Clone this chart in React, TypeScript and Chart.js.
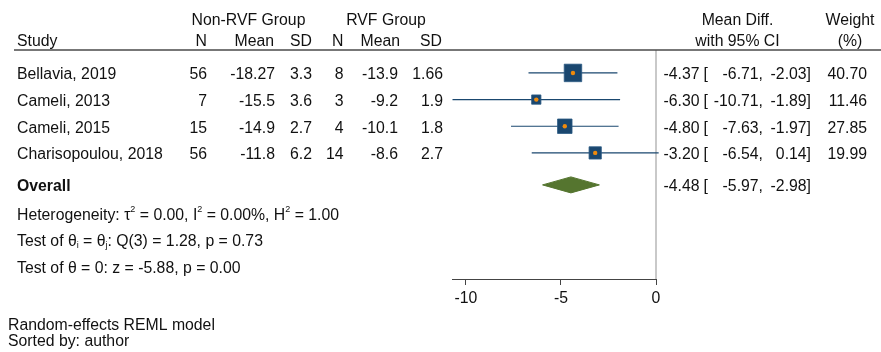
import { useEffect, useRef } from "react";
import { Chart, registerables } from "chart.js";

Chart.register(...registerables);

// ---- data ----
const studies = ["Bellavia, 2019", "Cameli, 2013", "Cameli, 2015", "Charisopoulou, 2018"];
const n1 = [56, 7, 15, 56];
const mean1 = [-18.27, -15.5, -14.9, -11.8];
const sd1 = [3.3, 3.6, 2.7, 6.2];
const n2 = [8, 3, 4, 14];
const mean2 = [-13.9, -9.2, -10.1, -8.6];
const sd2 = [1.66, 1.9, 1.8, 2.7];
const meanDiff = [-4.37, -6.3, -4.8, -3.2];
const ciLow = [-6.71, -10.71, -7.63, -6.54];
const ciHigh = [-2.03, -1.89, -1.97, 0.14];
const weights = [40.7, 11.46, 27.85, 19.99];
const overall = { est: -4.48, lo: -5.97, hi: -2.98 };
const xTicks = [-10, -5, 0];
const xMin = -10.71;
const xMax = 0;

// ---- layout (row units on the y scale) ----
const Y_MIN = 0.14;
const Y_MAX = 8.73;
const studyRows = [1, 2, 3, 4];
const overallRow = 5.2;
const statRows = [6.26, 7.27, 8.28];
const headRows = [-1.05, -0.24];
const footRows = [10.39, 10.99];
const DIAMOND_HALF = 0.3;
const SQUARE_MAX = 17.5;
const TEXT_DY = 2;

const FONT = '"Liberation Sans", Arial, Helvetica, sans-serif';
const FS = 15.8;
const TEXT = "#111111";
const NAVY = "#1a476f";
const ORANGE = "#ef8a0c";
const GREEN = "#55752f";

const COL = {
  study: 17,
  n1: 207,
  mean1: 275,
  sd1: 312,
  n2: 343.5,
  mean2: 398,
  sd2: 443,
  est: 699.5,
  brk: 703.5,
  lo: 763,
  hi: 811,
  w: 867,
};

type Run = { t: string; sup?: boolean; sub?: boolean; bold?: boolean };

function drawRuns(ctx: CanvasRenderingContext2D, runs: Run[], x: number, y: number) {
  let cx = x;
  ctx.textAlign = "left";
  ctx.textBaseline = "middle";
  for (const r of runs) {
    const size = r.sup || r.sub ? 9 : FS;
    ctx.font = `${r.bold ? "bold " : ""}${size}px ${FONT}`;
    const dy = r.sup ? -5.5 : r.sub ? 3.5 : 0;
    ctx.fillText(r.t, cx, y + dy + TEXT_DY);
    cx += ctx.measureText(r.t).width;
  }
}

function txt(ctx: CanvasRenderingContext2D, s: string, x: number, y: number, align: CanvasTextAlign, bold = false) {
  ctx.font = `${bold ? "bold " : ""}${FS}px ${FONT}`;
  ctx.textAlign = align;
  ctx.textBaseline = "middle";
  ctx.fillText(s, x, y + TEXT_DY);
}

const textPlugin = {
  id: "forestText",
  afterDraw(chart: any) {
    const ctx: CanvasRenderingContext2D = chart.ctx;
    const ys = chart.scales.y;
    const Y = (v: number) => ys.getPixelForValue(v);
    ctx.save();
    // header rule
    ctx.strokeStyle = "#4a4a4a";
    ctx.lineWidth = 1.5;
    ctx.beginPath();
    ctx.moveTo(14, chart.chartArea.top);
    ctx.lineTo(881, chart.chartArea.top);
    ctx.stroke();

    ctx.fillStyle = TEXT;
    const h1 = Y(headRows[0]);
    const h2 = Y(headRows[1]);
    txt(ctx, "Non-RVF Group", 248.5, h1, "center");
    txt(ctx, "RVF Group", 386, h1, "center");
    txt(ctx, "Mean Diff.", 737.5, h1, "center");
    txt(ctx, "Weight", 850, h1, "center");
    txt(ctx, "Study", COL.study, h2, "left");
    txt(ctx, "N", COL.n1, h2, "right");
    txt(ctx, "Mean", 274, h2, "right");
    txt(ctx, "SD", COL.sd1, h2, "right");
    txt(ctx, "N", COL.n2, h2, "right");
    txt(ctx, "Mean", 400, h2, "right");
    txt(ctx, "SD", 442, h2, "right");
    txt(ctx, "with 95% CI", 737.5, h2, "center");
    txt(ctx, "(%)", 850, h2, "center");

    studies.forEach((s, i) => {
      const y = Y(studyRows[i]);
      txt(ctx, s, COL.study, y, "left");
      txt(ctx, String(n1[i]), COL.n1, y, "right");
      txt(ctx, String(mean1[i]), COL.mean1, y, "right");
      txt(ctx, String(sd1[i]), COL.sd1, y, "right");
      txt(ctx, String(n2[i]), COL.n2, y, "right");
      txt(ctx, String(mean2[i]), COL.mean2, y, "right");
      txt(ctx, String(sd2[i]), COL.sd2, y, "right");
      txt(ctx, meanDiff[i].toFixed(2), COL.est, y, "right");
      txt(ctx, "[", COL.brk, y, "left");
      txt(ctx, ciLow[i].toFixed(2) + ",", COL.lo, y, "right");
      txt(ctx, ciHigh[i].toFixed(2) + "]", COL.hi, y, "right");
      txt(ctx, weights[i].toFixed(2), COL.w, y, "right");
    });

    const oy = Y(overallRow);
    txt(ctx, "Overall", COL.study, oy, "left", true);
    txt(ctx, overall.est.toFixed(2), COL.est, oy, "right");
    txt(ctx, "[", COL.brk, oy, "left");
    txt(ctx, overall.lo.toFixed(2) + ",", COL.lo, oy, "right");
    txt(ctx, overall.hi.toFixed(2) + "]", COL.hi, oy, "right");

    drawRuns(
      ctx,
      [
        { t: "Heterogeneity: τ" },
        { t: "2", sup: true },
        { t: " = 0.00, I" },
        { t: "2", sup: true },
        { t: " = 0.00%, H" },
        { t: "2", sup: true },
        { t: " = 1.00" },
      ],
      COL.study,
      Y(statRows[0])
    );
    drawRuns(
      ctx,
      [
        { t: "Test of θ" },
        { t: "i", sub: true },
        { t: " = θ" },
        { t: "j", sub: true },
        { t: ": Q(3) = 1.28, p = 0.73" },
      ],
      COL.study,
      Y(statRows[1])
    );
    drawRuns(ctx, [{ t: "Test of θ = 0: z = -5.88, p = 0.00" }], COL.study, Y(statRows[2]));

    txt(ctx, "Random-effects REML model", 8, Y(footRows[0]), "left");
    txt(ctx, "Sorted by: author", 8, Y(footRows[1]), "left");
    ctx.restore();
  },
};

export default function App() {
  const ref = useRef<HTMLCanvasElement | null>(null);
  useEffect(() => {
    if (!ref.current) return;
    const maxW = Math.max(...weights);
    const ciSets = studies.map((_, i) => ({
      type: "scatter" as const,
      data: [
        { x: ciLow[i], y: studyRows[i] },
        { x: ciHigh[i], y: studyRows[i] },
      ],
      showLine: true,
      borderColor: NAVY,
      borderWidth: 1.2,
      pointRadius: 0,
      clip: false as any,
      order: 5,
    }));
    const chart = new Chart(ref.current, {
      type: "scatter",
      data: {
        datasets: [
          {
            data: [
              { x: 0, y: Y_MIN },
              { x: 0, y: Y_MAX },
            ],
            showLine: true,
            borderColor: "#a6a6a6",
            borderWidth: 1.2,
            pointRadius: 0,
            clip: false as any,
            order: 10,
          },
          ...ciSets,
          {
            data: meanDiff.map((v, i) => ({ x: v, y: studyRows[i] })),
            pointStyle: "rect",
            pointRadius: weights.map((w) => (SQUARE_MAX * Math.sqrt(w / maxW)) / Math.SQRT2),
            backgroundColor: NAVY,
            borderColor: "#2b5a84",
            borderWidth: 0.8,
            clip: false as any,
            order: 3,
          },
          {
            data: meanDiff.map((v, i) => ({ x: v, y: studyRows[i] })),
            pointStyle: "circle",
            pointRadius: 2.2,
            backgroundColor: ORANGE,
            borderWidth: 0,
            clip: false as any,
            order: 1,
          },
          {
            data: [
              { x: overall.lo, y: overallRow },
              { x: overall.est, y: overallRow - DIAMOND_HALF },
              { x: overall.hi, y: overallRow },
              { x: overall.est, y: overallRow + DIAMOND_HALF },
              { x: overall.lo, y: overallRow },
            ],
            showLine: true,
            fill: "shape" as any,
            backgroundColor: GREEN,
            borderColor: GREEN,
            borderWidth: 1,
            pointRadius: 0,
            tension: 0,
            clip: false as any,
            order: 4,
          },
        ] as any,
      },
      options: {
        animation: false,
        responsive: false,
        devicePixelRatio: 1,
        layout: { padding: { left: 452.5, right: 225, top: 50, bottom: 33 } },
        plugins: { legend: { display: false }, tooltip: { enabled: false } },
        events: [],
        scales: {
          x: {
            type: "linear",
            min: xMin,
            max: xMax,
            afterBuildTicks: (s: any) => {
              s.ticks = xTicks.map((v) => ({ value: v }));
            },
            afterFit: (s: any) => {
              s.height = 40;
            },
            grid: { drawOnChartArea: false, drawTicks: true, tickLength: 6, color: "#444444", lineWidth: 1 },
            border: { display: true, color: "#444444", width: 1 },
            ticks: {
              color: TEXT,
              padding: 4,
              font: { family: FONT, size: FS },
              maxRotation: 0,
              autoSkip: false,
              callback: (v: any) => String(v),
            },
          },
          y: {
            type: "linear",
            display: false,
            min: Y_MIN,
            max: Y_MAX,
            reverse: true,
          },
        },
      },
      plugins: [textPlugin],
    });
    return () => chart.destroy();
  }, []);
  return (
    <div style={{ position: "absolute", left: 0, top: 0, width: 881, height: 352, background: "#fff" }}>
      <canvas ref={ref} width={881} height={352} style={{ display: "block", width: 881, height: 352 }} />
    </div>
  );
}
